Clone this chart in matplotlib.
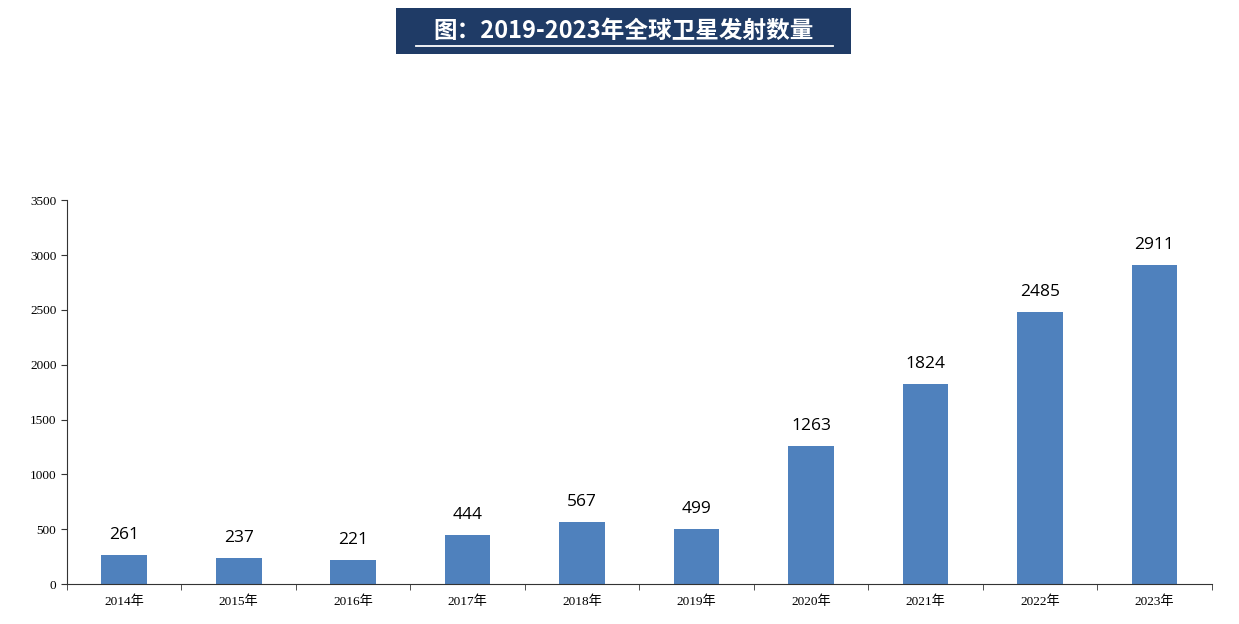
import matplotlib
matplotlib.use("Agg")
import matplotlib.pyplot as plt
from matplotlib.patches import Rectangle
import numpy as np

years = ["2014年","2015年","2016年","2017年","2018年","2019年","2020年","2021年","2022年","2023年"]
values = [261,237,221,444,567,499,1263,1824,2485,2911]
title = "图：2019-2023年全球卫星发射数量"

fig = plt.figure(figsize=(12.39,6.24), dpi=100)
ax = fig.add_axes([0.054,0.064,0.924,0.615])
x = np.arange(len(years))
ax.bar(x, values, width=0.4, color="#4F81BD")
for xi, v in zip(x, values):
    ax.text(xi, v+110, str(v), ha="center", va="bottom", fontsize=12.5,
            family=["Open Sans","DejaVu Sans"])
ax.set_xlim(-0.5, len(years)-0.5)
ax.set_ylim(0,3500)
ax.set_yticks(range(0,3501,500))
ax.set_yticklabels([str(t) for t in range(0,3501,500)], family=["Liberation Serif"], fontsize=9.5)
ax.set_xticks(x)
ax.set_xticklabels(years, family=["Liberation Serif","Noto Sans CJK SC"], fontsize=9.5)
ax.set_xticks(np.arange(-0.5, len(years), 1), minor=True)
ax.tick_params(axis="x", which="major", length=0, pad=8)
ax.tick_params(axis="x", which="minor", length=4, direction="out", color="#333")
ax.tick_params(axis="y", length=4, direction="out", color="#333")
for s in ["top","right"]:
    ax.spines[s].set_visible(False)
for s in ["left","bottom"]:
    ax.spines[s].set_color("#333")

fig.add_artist(Rectangle((0.3196,0.9135),0.367,0.0737, transform=fig.transFigure,
                         facecolor="#1F3B66", edgecolor="none"))
fig.text(0.503, 0.951, title, ha="center", va="center", color="white", fontsize=17,
         fontweight="bold", family=["Noto Sans CJK SC","DejaVu Sans"])
fig.add_artist(plt.Line2D([0.336,0.672],[0.927,0.927], color="white", lw=1.3,
                          transform=fig.transFigure, zorder=10))
fig.savefig("out.png", dpi=100)
